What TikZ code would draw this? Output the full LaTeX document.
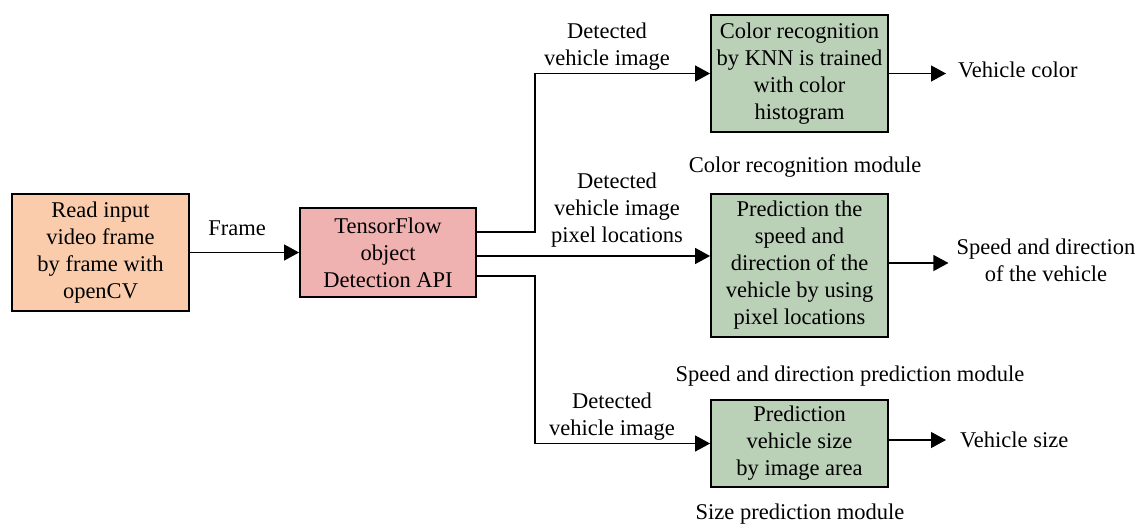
\documentclass[tikz,border=0pt]{standalone}
\usepackage{fontspec}
\setmainfont{Liberation Serif}
\newfontfamily\tnr{Liberation Serif}
\usetikzlibrary{arrows.meta}
\definecolor{peach}{RGB}{250,204,172}
\definecolor{rose}{RGB}{240,177,177}
\definecolor{sage}{RGB}{186,208,183}
\tikzset{
  every node/.style={font=\tnr\fontsize{22.5}{27}\selectfont, align=center},
  block/.style={draw=black, line width=1.8pt, inner sep=0pt},
  arr/.style={line width=1.2pt, -{Triangle[length=15pt,width=16pt]}},
  plain/.style={inner sep=0pt}
}
\begin{document}
\begin{tikzpicture}[x=1pt,y=-1pt]
\useasboundingbox (0,0) rectangle (1140,528);

% processing blocks
\node[block, fill=peach, minimum width=177pt, minimum height=117pt] (read) at (100.5,252.5)
  {Read input\\video frame\\by frame with\\openCV};
\node[block, fill=rose, minimum width=176pt, minimum height=89pt] (tf) at (388,252.5)
  {TensorFlow\\object\\Detection API};
\node[block, fill=sage, minimum width=177pt, minimum height=117pt] (color) at (799.5,73.5)
  {Color recognition\\by KNN is trained\\with color\\histogram};
\node[block, fill=sage, minimum width=177pt, minimum height=143pt] (speed) at (799.5,265.5)
  {Prediction the\\speed and\\direction of the\\vehicle by using\\pixel locations};
\node[block, fill=sage, minimum width=177pt, minimum height=87pt] (size) at (799.5,443.5)
  {Prediction\\vehicle size\\by image area};

% module captions
\node[plain] (capC) at (805,167) {Color recognition module};
\node[plain] (capS) at (850,376) {Speed and direction prediction module};
\node[plain] (capZ) at (800,514) {Size prediction module};

% outputs
\node[plain, anchor=west] (outC) at (958,70) {Vehicle color};
\node[plain] (outS) at (1046,260) {Speed and direction\\of the vehicle};
\node[plain, anchor=west] (outZ) at (960,440) {Vehicle size};

% connector labels
\node[plain] (lblF) at (237,228) {Frame};
\node[plain] (lblC) at (607,47) {Detected\\vehicle image};
\node[plain] (lblS) at (617,210) {Detected\\vehicle image\\pixel locations};
\node[plain] (lblZ) at (612,417) {Detected\\vehicle image};

% branch points
\coordinate (brU) at (535,232);
\coordinate (brM) at (476,256);
\coordinate (brD) at (535,276);

% connectors
\draw[arr] (read.east) -- (tf.west);
\draw[arr] (tf.east |- brU) -- (brU) |- (color.west);
\draw[arr] (tf.east |- brM) -- (speed.west |- brM);
\draw[arr] (tf.east |- brD) -- (brD) |- (size.west);
\draw[arr] (color.east) -- ([xshift=-12pt]outC.west |- color.east);
\draw[arr] (speed.east |- 0,263) -- ([xshift=-8pt]outS.west |- 0,263);
\draw[arr] (size.east |- outZ.west) -- ([xshift=-14pt]outZ.west);
\end{tikzpicture}
\end{document}
